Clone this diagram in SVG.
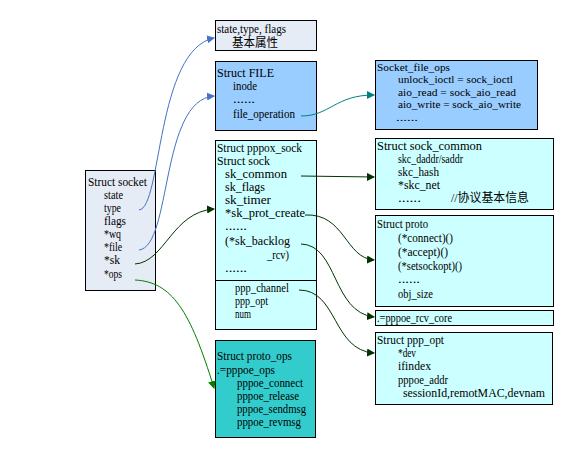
<svg xmlns="http://www.w3.org/2000/svg" width="575" height="453" viewBox="0 0 575 453">
<defs>
<style>
text{font-family:"Liberation Serif","Noto Sans CJK SC",serif;font-size:12px;fill:#000}
.sm{font-size:11px}
.box{stroke:#000;stroke-width:1}
.lav{fill:#e6ecf6}
.blu{fill:#99ccff}
.cyn{fill:#ccffff}
.tea{fill:#33cccc}
.c{fill:none;stroke-width:1}
</style>
<marker id="ab" markerWidth="8" markerHeight="8" refX="7" refY="4" orient="auto" markerUnits="userSpaceOnUse"><path d="M0,0 L8,4 L0,8 Z" fill="#4472c4"/></marker>
<marker id="ag" markerWidth="8" markerHeight="8" refX="7" refY="4" orient="auto" markerUnits="userSpaceOnUse"><path d="M0,0 L8,4 L0,8 Z" fill="#003300"/></marker>
<marker id="al" markerWidth="8" markerHeight="8" refX="7" refY="4" orient="auto" markerUnits="userSpaceOnUse"><path d="M0,0 L8,4 L0,8 Z" fill="#008000"/></marker>
<marker id="at" markerWidth="8" markerHeight="8" refX="7" refY="4" orient="auto" markerUnits="userSpaceOnUse"><path d="M0,0 L8,4 L0,8 Z" fill="#008080"/></marker>
</defs>
<rect width="575" height="453" fill="#fff"/>

<g id="socket">
<rect class="box lav" x="85.5" y="170.5" width="70" height="120"/>
<text x="88" y="186" textLength="59" lengthAdjust="spacingAndGlyphs">Struct socket</text>
<text x="104" y="199" textLength="19" lengthAdjust="spacingAndGlyphs">state</text>
<text x="104" y="212" textLength="17" lengthAdjust="spacingAndGlyphs">type</text>
<text x="104" y="225" textLength="22" lengthAdjust="spacingAndGlyphs">flags</text>
<text x="104" y="238" textLength="17" lengthAdjust="spacingAndGlyphs">*wq</text>
<text x="104" y="251" textLength="18" lengthAdjust="spacingAndGlyphs">*file</text>
<text x="104" y="264" textLength="16" lengthAdjust="spacingAndGlyphs">*sk</text>
<text x="104" y="278" textLength="18" lengthAdjust="spacingAndGlyphs">*ops</text>
</g>

<g id="attrs">
<rect class="box lav" x="215.5" y="20.5" width="101" height="30"/>
<text x="217" y="33" textLength="69" lengthAdjust="spacingAndGlyphs">state,type, flags</text>
<text x="232" y="47" textLength="46" lengthAdjust="spacingAndGlyphs">基本属性</text>
</g>

<g id="file">
<rect class="box blu" x="215.5" y="61.5" width="101" height="69"/>
<text x="217" y="77" textLength="57" lengthAdjust="spacingAndGlyphs">Struct FILE</text>
<text x="233" y="90" textLength="24" lengthAdjust="spacingAndGlyphs">inode</text>
<text x="233" y="103" textLength="22" lengthAdjust="spacingAndGlyphs">......</text>
<text x="233" y="118" textLength="62" lengthAdjust="spacingAndGlyphs">file_operation</text>
</g>

<g id="pppox_sock">
<rect class="box cyn" x="215.5" y="140.5" width="101" height="189"/>
<line class="box" x1="215.5" y1="280.5" x2="316.5" y2="280.5"/>
<text x="217" y="152" textLength="85" lengthAdjust="spacingAndGlyphs">Struct pppox_sock</text>
<text x="217" y="165" textLength="53" lengthAdjust="spacingAndGlyphs">Struct sock</text>
<text x="225" y="178" textLength="62" lengthAdjust="spacingAndGlyphs">sk_common</text>
<text x="225" y="191" textLength="40" lengthAdjust="spacingAndGlyphs">sk_flags</text>
<text x="225" y="204" textLength="46" lengthAdjust="spacingAndGlyphs">sk_timer</text>
<text x="225" y="217" textLength="80" lengthAdjust="spacingAndGlyphs">*sk_prot_create</text>
<text x="225" y="230" textLength="22" lengthAdjust="spacingAndGlyphs">......</text>
<text x="225" y="245" textLength="65" lengthAdjust="spacingAndGlyphs">(*sk_backlog</text>
<text x="267" y="259" textLength="22" lengthAdjust="spacingAndGlyphs">_rcv)</text>
<text x="225" y="272" textLength="22" lengthAdjust="spacingAndGlyphs">......</text>
<text x="235" y="292" textLength="54" lengthAdjust="spacingAndGlyphs">ppp_channel</text>
<text x="235" y="305" textLength="33" lengthAdjust="spacingAndGlyphs">ppp_opt</text>
<text x="235" y="318" textLength="16" lengthAdjust="spacingAndGlyphs">num</text>
</g>

<g id="proto_ops">
<rect class="box tea" x="215.5" y="340.5" width="100" height="97"/>
<text x="217" y="360" textLength="75" lengthAdjust="spacingAndGlyphs">Struct proto_ops</text>
<text x="217" y="374" textLength="58" lengthAdjust="spacingAndGlyphs">.=pppoe_ops</text>
<text x="237" y="387" textLength="66" lengthAdjust="spacingAndGlyphs">pppoe_connect</text>
<text x="237" y="400" textLength="62" lengthAdjust="spacingAndGlyphs">pppoe_release</text>
<text x="237" y="413" textLength="69" lengthAdjust="spacingAndGlyphs">pppoe_sendmsg</text>
<text x="237" y="426" textLength="64" lengthAdjust="spacingAndGlyphs">pppoe_revmsg</text>
</g>

<g id="socket_file_ops">
<rect class="box blu" x="375.5" y="60.5" width="162" height="69"/>
<text class="sm" x="377" y="71" textLength="73" lengthAdjust="spacingAndGlyphs">Socket_file_ops</text>
<text class="sm" x="398" y="83" textLength="115" lengthAdjust="spacingAndGlyphs">unlock_ioctl = sock_ioctl</text>
<text class="sm" x="398" y="96" textLength="118" lengthAdjust="spacingAndGlyphs">aio_read = sock_aio_read</text>
<text class="sm" x="398" y="108" textLength="123" lengthAdjust="spacingAndGlyphs">aio_write = sock_aio_write</text>
<text class="sm" x="396" y="121" textLength="22" lengthAdjust="spacingAndGlyphs">......</text>
</g>

<g id="sock_common">
<rect class="box cyn" x="375.5" y="138.5" width="178" height="71"/>
<text x="377" y="150" textLength="105" lengthAdjust="spacingAndGlyphs">Struct sock_common</text>
<text x="398" y="163" textLength="65" lengthAdjust="spacingAndGlyphs">skc_daddr/saddr</text>
<text x="398" y="176" textLength="41" lengthAdjust="spacingAndGlyphs">skc_hash</text>
<text x="398" y="189" textLength="42" lengthAdjust="spacingAndGlyphs">*skc_net</text>
<text x="398" y="202" textLength="23" lengthAdjust="spacingAndGlyphs">......</text>
<text x="451" y="202" textLength="78" lengthAdjust="spacingAndGlyphs">//协议基本信息</text>
</g>

<g id="proto">
<rect class="box cyn" x="375.5" y="215.5" width="178" height="91"/>
<text x="377" y="228" textLength="51" lengthAdjust="spacingAndGlyphs">Struct proto</text>
<text x="398" y="242" textLength="55" lengthAdjust="spacingAndGlyphs">(*connect)()</text>
<text x="398" y="256" textLength="50" lengthAdjust="spacingAndGlyphs">(*accept)()</text>
<text x="398" y="270" textLength="64" lengthAdjust="spacingAndGlyphs">(*setsockopt)()</text>
<text x="398" y="283" textLength="22" lengthAdjust="spacingAndGlyphs">......</text>
<text x="398" y="298" textLength="35" lengthAdjust="spacingAndGlyphs">obj_size</text>
</g>

<g id="rcv_core">
<rect class="box cyn" x="375.5" y="310.5" width="178" height="15"/>
<text x="377" y="322" textLength="75" lengthAdjust="spacingAndGlyphs">.=pppoe_rcv_core</text>
</g>

<g id="ppp_opt">
<rect class="box cyn" x="375.5" y="332.5" width="177" height="72"/>
<text x="377" y="344" textLength="67" lengthAdjust="spacingAndGlyphs">Struct ppp_opt</text>
<text x="398" y="357" textLength="18" lengthAdjust="spacingAndGlyphs">*dev</text>
<text x="398" y="370" textLength="33" lengthAdjust="spacingAndGlyphs">ifindex</text>
<text x="398" y="384" textLength="50" lengthAdjust="spacingAndGlyphs">pppoe_addr</text>
<text x="403" y="397" textLength="142" lengthAdjust="spacingAndGlyphs">sessionId,remotMAC,devnam</text>
</g>

<g id="connectors">
<path class="c" stroke="#4472c4" marker-end="url(#ab)" d="M139,210 C162,208 156,50 214,38"/>
<path class="c" stroke="#4472c4" marker-end="url(#ab)" d="M139,250 C172,246 160,100 214,96"/>
<path class="c" stroke="#003300" marker-end="url(#ag)" d="M135,264 C165,262 172,212 214,209"/>
<path class="c" stroke="#008000" marker-end="url(#al)" d="M135,280 C172,282 190,310 214,388"/>
<path class="c" stroke="#008080" marker-end="url(#at)" d="M301,116 C330,116 335,95 374,95"/>
<path class="c" stroke="#003300" marker-end="url(#ag)" d="M301,176 L374,177"/>
<path class="c" stroke="#003300" marker-end="url(#ag)" d="M305,215 C345,213 345,258 374,260"/>
<path class="c" stroke="#003300" marker-end="url(#ag)" d="M301,244 C338,245 332,312 374,317"/>
<path class="c" stroke="#003300" marker-end="url(#ag)" d="M299,290 C338,290 332,350 374,353"/>
</g>
</svg>
